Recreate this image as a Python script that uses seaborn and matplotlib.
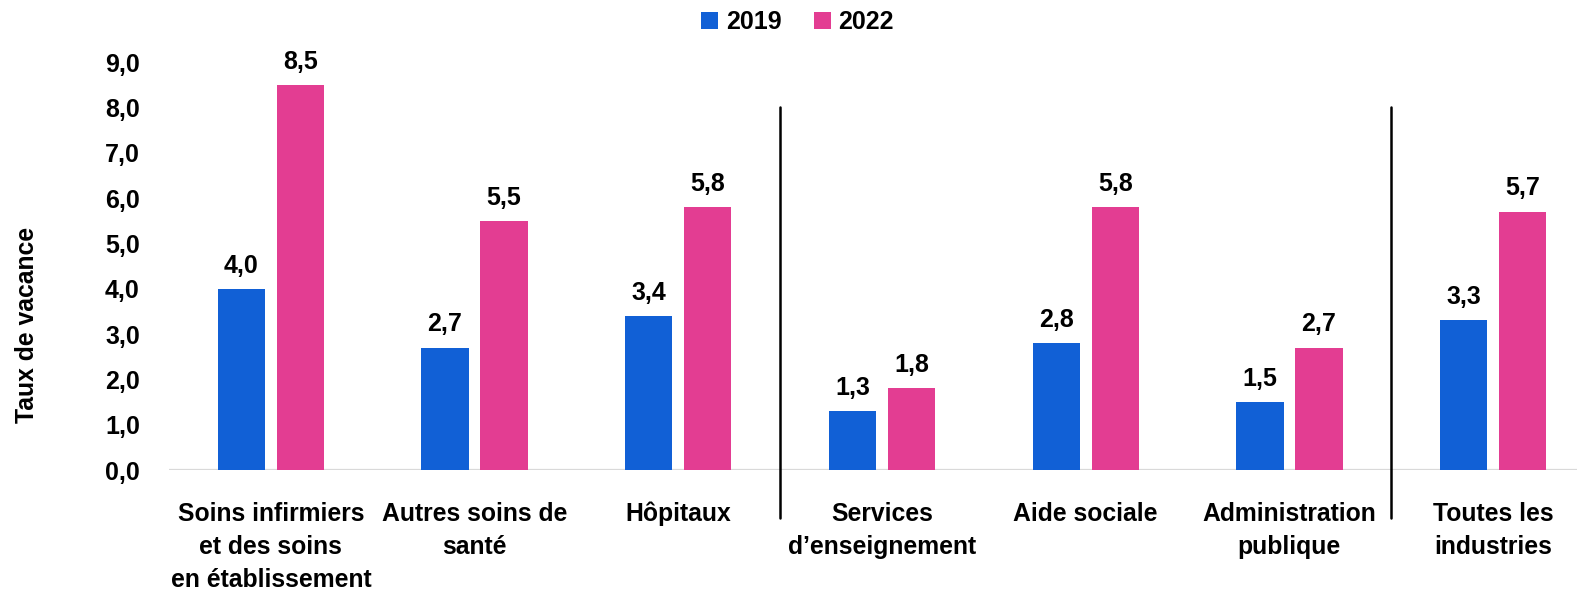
import pandas as pd
import matplotlib.pyplot as plt
import seaborn as sns
from matplotlib.patches import Patch

# Data
categories = ['Soins infirmiers\net des soins\nen établissement', 'Autres soins de\nsanté', 'Hôpitaux',
              'Services\nd’enseignement', 'Aide sociale', 'Administration\npublique', 'Toutes les\nindustries']
years = ['2019', '2022']
vals_2019 = [4.0, 2.7, 3.4, 1.3, 2.8, 1.5, 3.3]
vals_2022 = [8.5, 5.5, 5.8, 1.8, 5.8, 2.7, 5.7]
yticks = [0, 1, 2, 3, 4, 5, 6, 7, 8, 9]

colors = ['#1160d6', '#e33d92']

df = pd.DataFrame({
    'cat': categories * 2,
    'year': ['2019'] * len(categories) + ['2022'] * len(categories),
    'val': vals_2019 + vals_2022,
})

sns.set_style('white')
plt.rcParams['font.family'] = ['Liberation Sans', 'DejaVu Sans']
plt.rcParams['text.color'] = 'black'
plt.rcParams['xtick.color'] = 'black'
plt.rcParams['ytick.color'] = 'black'
plt.rcParams['axes.labelcolor'] = 'black'

fig = plt.figure(figsize=(15.77, 5.95), dpi=100)
ax = fig.add_axes([169 / 1577, 125 / 595, 1426 / 1577, 408 / 595])

sns.barplot(data=df, x='cat', y='val', hue='year', palette=colors, saturation=1, width=0.58, gap=0.2,
            ax=ax, legend=False, edgecolor='none', linewidth=0)

for cont in ax.containers:
    labels = [f'{b.get_height():.1f}'.replace('.', ',') for b in cont]
    ax.bar_label(cont, labels=labels, padding=8, fontsize=18, fontweight='bold', color='black')

ax.set_xlim(-0.5, 6.5)
ax.set_ylim(0, 9)
ax.set_yticks(yticks)
ax.set_yticklabels([f'{t:.1f}'.replace('.', ',') for t in yticks], fontsize=18, fontweight='bold')
ax.tick_params(axis='y', length=0, pad=21)
ax.tick_params(axis='x', length=0, pad=23)
for lbl in ax.get_xticklabels():
    lbl.set_fontsize(17.8)
    lbl.set_fontweight('bold')
    lbl.set_linespacing(1.48)
ax.set_xlabel('')
ax.set_ylabel('')
fig.text(27 / 1577, 1 - 325 / 595, 'Taux de vacance', rotation=90, ha='center', va='center',
         fontsize=17.8, fontweight='bold')
sns.despine(ax=ax, left=True, bottom=True)
ax.grid(False)
ax.axhline(0, color='#d9d9d9', lw=1.6, zorder=0)

# group separators
for xs in [2.5, 5.5]:
    ax.plot([xs, xs], [-1.06, 8.0], color='black', lw=1.8, clip_on=False)

handles = [Patch(facecolor=c, edgecolor='none') for c in colors]
fig.legend(handles, years, loc='center', bbox_to_anchor=(0.5057, 0.963), ncol=2, frameon=False,
           prop={'weight': 'bold', 'size': 18}, handlelength=0.68, handleheight=0.68,
           handletextpad=0.3, columnspacing=1.3)

plt.savefig('out.png', dpi=100)
